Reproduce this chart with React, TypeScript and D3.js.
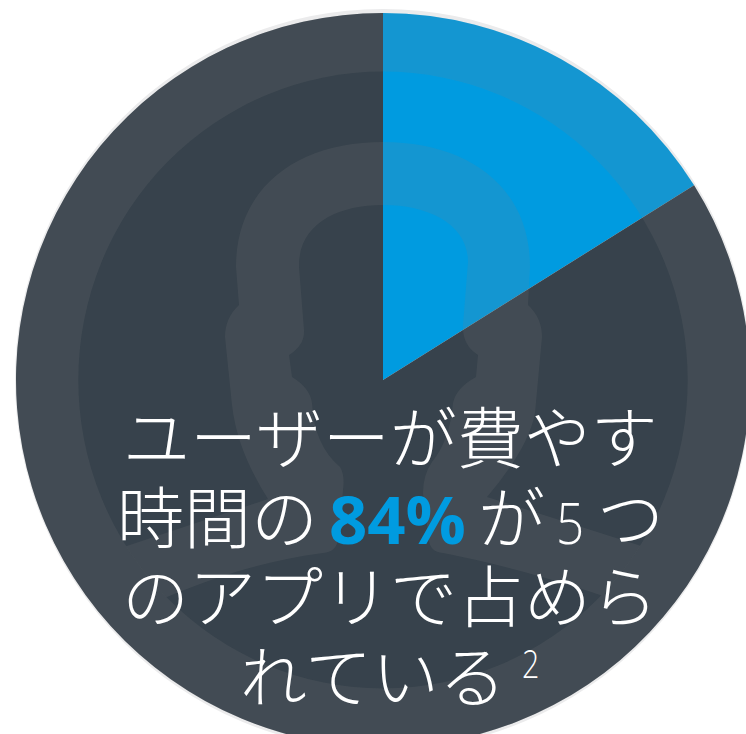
import * as d3 from "d3";

type Run = { text: string; x: number; highlight?: boolean; sup?: boolean; latin?: boolean };

const shareLabels = ["その他", "上位 5 アプリ以外"];
const shareValues = [16.1, 83.9];
const shareColors = ["#009be0", "#37424c"];

const line1: Run[] = [{ text: "ユーザーが費やす", x: 123 }];
const line2: Run[] = [
  { text: "時間の", x: 117 },
  { text: "84%", x: 329, highlight: true },
  { text: "が", x: 478 },
  { text: "5", x: 556, latin: true },
  { text: "つ", x: 597 },
];
const line3: Run[] = [{ text: "のアプリで占めら", x: 122 }];
const line4: Run[] = [
  { text: "れている", x: 240 },
  { text: "2", x: 522, sup: true },
];
const headlineLines = [line1, line2, line3, line4];

const width = 746;
const height = 734;
const cx = 383;
const cy = 380;
const outerR = 367;
const innerRx = 304.7;
const innerRy = 308.5;

// faint person with headset behind the pie
const silhouette = `M100,555 L268,499 C250,470 236,440 232,405 L225,337 Q225,318 239,305
  L236,267 C236,185 300,142 383,142 C466,142 530,185 530,267 L528,305 Q542,318 542,337
  L535,413 C530,440 510,470 487,497 L670,555 L670,625 L600,595 C550,578 490,562 443,553
  Q430,552 429,540 L423,493 Q423,475 432,462 Q450,440 453,403 Q456,388 476,377
  L478,355 Q462,345 463,325 L468,262 C468,225 430,205 383,205 C336,205 298,225 299,267
  L304,330 Q305,345 289,355 L292,377 Q310,388 312,403 Q314,445 340,467 Q345,475 343,490
  L338,540 Q336,552 323,553 C270,560 220,575 167,597 L140,610 L100,610 Z`;

export default function App() {
  const pie = d3.pie<number>().sort(null).startAngle(0).endAngle(2 * Math.PI);
  const arcs = pie(shareValues);
  const wedge = d3.arc<d3.PieArcDatum<number>>().innerRadius(0).outerRadius(outerR);
  const overlay = "rgba(130,125,125,0.155)";
  const latinFont = "'Open Sans', sans-serif";

  return (
    <svg
      width={width}
      height={height}
      style={{ position: "absolute", left: 0, top: 0 }}
      fontFamily="'Noto Sans CJK JP', 'Noto Sans', sans-serif"
    >
      <defs>
        <clipPath id="inner-disc">
          <ellipse cx={cx} cy={cy} rx={innerRx + 0.3} ry={innerRy + 0.3} />
        </clipPath>
        <mask id="ring-mask">
          <rect width={width} height={height} fill="#fff" />
          <ellipse cx={cx} cy={cy} rx={innerRx} ry={innerRy} fill="#000" />
        </mask>
      </defs>
      <ellipse cx={cx} cy={cy - 0.5} rx={outerR + 1} ry={outerR + 3.5} fill="#ebebec" />
      <g transform={`translate(${cx},${cy})`}>
        {arcs.map((d, i) => (
          <path key={shareLabels[i]} d={wedge(d)!} fill={shareColors[i]} />
        ))}
      </g>
      <circle cx={cx} cy={cy} r={outerR} fill={overlay} mask="url(#ring-mask)" />
      <g clipPath="url(#inner-disc)">
        <path d={silhouette} fill={overlay} />
      </g>
      <g fontSize={67} fontWeight={300} fill="#fff">
        {headlineLines.map((runs, i) =>
          runs.map((r, j) => {
            const y = 463 + i * 79.5;
            if (r.highlight) {
              return (
                <text key={`${i}-${j}`} x={r.x} y={y + 1} fill="#009be0" fontWeight={700} fontFamily={latinFont}>
                  {r.text}
                </text>
              );
            }
            if (r.sup) {
              return (
                <text
                  key={`${i}-${j}`}
                  transform={`translate(${r.x},${y - 24}) scale(0.8,1)`}
                  fontSize={38}
                  fontFamily={latinFont}
                >
                  {r.text}
                </text>
              );
            }
            if (r.latin) {
              return (
                <text
                  key={`${i}-${j}`}
                  transform={`translate(${r.x},${y + 1}) scale(0.85,1)`}
                  fontSize={58}
                  fontFamily={latinFont}
                >
                  {r.text}
                </text>
              );
            }
            return (
              <text key={`${i}-${j}`} x={r.x} y={y}>
                {r.text}
              </text>
            );
          })
        )}
      </g>
    </svg>
  );
}
